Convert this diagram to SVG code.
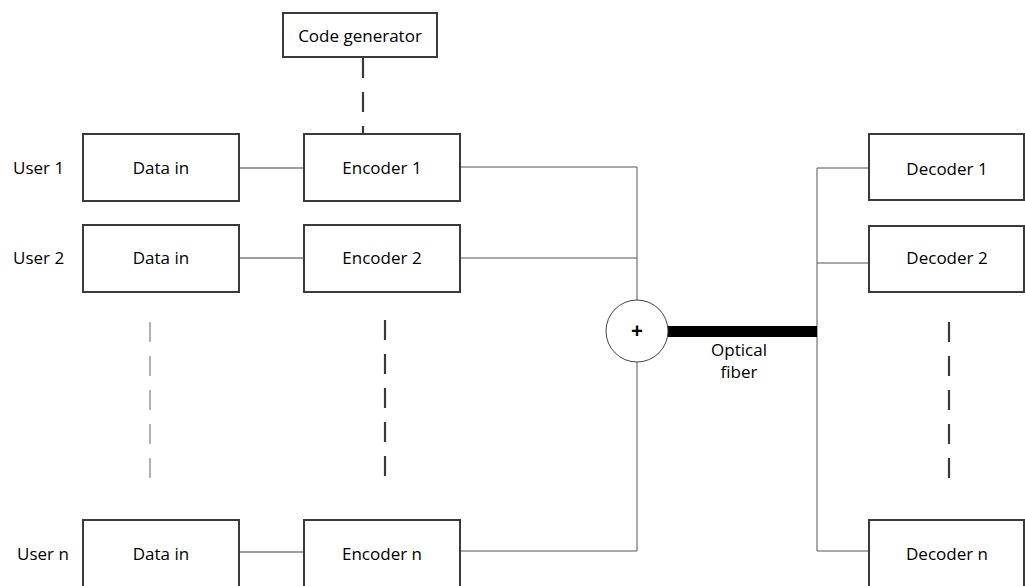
<svg xmlns="http://www.w3.org/2000/svg" width="1025" height="586" viewBox="0 0 1025 586">
<style>
.box{fill:#fff;stroke:#3a3a3a;stroke-width:2}
.t{font-family:"Open Sans","Liberation Sans",sans-serif;font-size:17px;fill:#000}
.c{text-anchor:middle}
.thin{stroke:#555;stroke-width:1;fill:none}
.gray{stroke:#808080;stroke-width:1.5;fill:none}
.dashd{stroke:#3a3a3a;stroke-width:2.2;stroke-dasharray:20 14;fill:none}
.dashl{stroke:#9a9a9a;stroke-width:1.5;stroke-dasharray:20 14;fill:none}
</style>
<rect width="1025" height="586" fill="#fff"/>
<g id="connectors">
<path class="dashd" d="M363 58V134"/>
<path class="gray" d="M239 168H304"/>
<path class="gray" d="M239 258H304"/>
<path class="gray" d="M239 552H304"/>
<path class="thin" d="M460 167H637V300"/>
<path class="thin" d="M460 258H637"/>
<path class="thin" d="M460 551H637V362"/>
<path class="thin" d="M869 168H817V551H869"/>
<path class="thin" d="M817 263H873"/>
<rect x="668" y="326" width="149" height="11" fill="#000"/>
<path class="dashl" d="M150 322V484"/>
<path class="dashd" d="M385 320V484"/>
<path class="dashd" d="M949 322V484"/>
</g>
<g id="code-generator">
<rect class="box" x="283" y="13" width="154" height="44"/>
<text class="t c" x="360" y="41.5">Code generator</text>
</g>
<g id="user1-label"><text class="t" x="13" y="174">User 1</text></g>
<g id="user2-label"><text class="t" x="13" y="264">User 2</text></g>
<g id="usern-label"><text class="t" x="17" y="560">User n</text></g>
<g id="data-in-1">
<rect class="box" x="83" y="134" width="156" height="67"/>
<text class="t c" x="161" y="174">Data in</text>
</g>
<g id="data-in-2">
<rect class="box" x="83" y="225" width="156" height="67"/>
<text class="t c" x="161" y="264">Data in</text>
</g>
<g id="data-in-n">
<rect class="box" x="83" y="520" width="156" height="70"/>
<text class="t c" x="161" y="560">Data in</text>
</g>
<g id="encoder-1">
<rect class="box" x="304" y="134" width="156" height="67"/>
<text class="t c" x="382" y="174">Encoder 1</text>
</g>
<g id="encoder-2">
<rect class="box" x="304" y="225" width="156" height="67"/>
<text class="t c" x="382" y="264">Encoder 2</text>
</g>
<g id="encoder-n">
<rect class="box" x="304" y="520" width="156" height="70"/>
<text class="t c" x="382" y="560">Encoder n</text>
</g>
<g id="combiner">
<circle cx="637" cy="331" r="31" fill="#fff" stroke="#444" stroke-width="1"/>
<text class="t c" x="637" y="338" style="font-weight:bold;font-size:21px">+</text>
</g>
<g id="fiber-label">
<text class="t c" x="739" y="356">Optical</text>
<text class="t c" x="739" y="378">fiber</text>
</g>
<g id="decoder-1">
<rect class="box" x="869" y="134" width="155" height="66"/>
<text class="t c" x="947" y="175">Decoder 1</text>
</g>
<g id="decoder-2">
<rect class="box" x="869" y="226" width="155" height="66"/>
<text class="t c" x="947" y="264">Decoder 2</text>
</g>
<g id="decoder-n">
<rect class="box" x="869" y="520" width="155" height="70"/>
<text class="t c" x="947" y="560">Decoder n</text>
</g>
</svg>
